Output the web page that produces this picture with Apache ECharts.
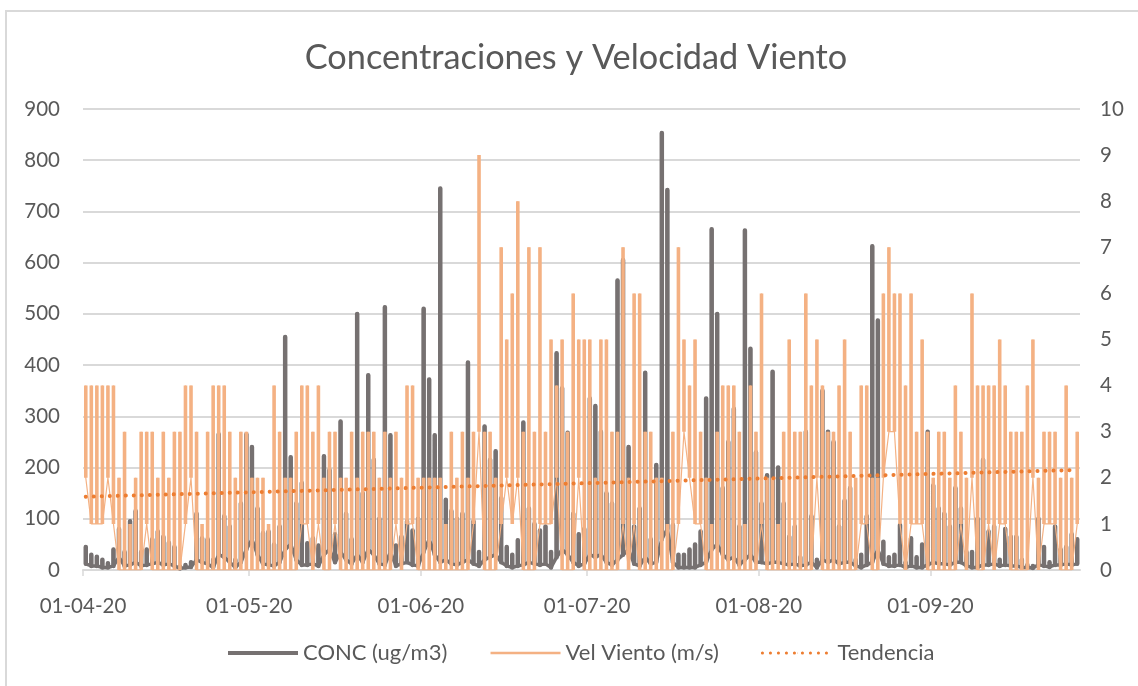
<!DOCTYPE html>
<html><head><meta charset="utf-8">
<style>html,body{margin:0;padding:0;background:#fff}#c{width:1138px;height:686px}</style>
<script src="https://cdn.jsdelivr.net/npm/echarts@6/dist/echarts.min.js"></script>
</head><body><div id="c"></div>
<script>
const tickDays = [0,30,61,91,122,153];
const tickLabels = ['01-04-20','01-05-20','01-06-20','01-07-20','01-08-20','01-09-20'];
const concHi = [45,30,26,20,13,40,80,35,95,115,35,40,60,75,65,53,45,7,10,15,110,62,60,20,265,105,85,20,130,265,
240,120,72,75,50,85,455,220,130,170,52,62,48,222,195,70,290,110,60,500,150,380,215,100,513,263,48,65,95,77,
100,510,372,263,745,137,115,100,110,405,95,35,280,215,232,140,45,30,58,288,120,90,77,85,35,423,355,268,110,70,
80,335,320,270,150,130,565,605,240,85,120,385,60,205,853,742,88,30,30,40,50,75,335,665,500,160,250,315,85,663,
432,230,130,185,387,200,130,65,85,25,270,105,20,350,270,250,85,135,160,20,30,105,632,487,55,25,30,88,15,62,
25,50,270,165,120,110,85,160,120,35,35,100,215,75,85,20,80,65,65,20,10,8,100,45,15,85,40,45,70,60];
const concLo = [12,8,8,5,5,8,25,8,10,15,8,10,12,15,10,12,8,3,5,6,20,15,12,5,30,25,15,5,15,40,
60,30,12,10,8,15,40,50,20,10,10,12,8,30,40,15,35,20,12,30,15,40,30,12,10,35,8,12,15,10,
8,35,60,30,15,20,12,10,15,20,12,8,20,25,30,15,8,5,8,10,15,12,10,12,5,25,40,30,15,8,
12,30,25,30,15,10,20,30,40,12,8,25,12,15,60,80,15,5,5,5,5,10,15,40,50,30,20,25,10,20,
30,15,15,12,15,15,12,10,12,8,10,15,5,20,15,20,12,15,15,8,5,10,15,40,12,8,8,10,5,8,
5,5,10,15,12,12,10,15,15,8,5,5,10,10,12,8,10,8,8,5,5,4,10,8,6,10,10,12,10,12];
const windHi = [4,4,4,4,4,4,2,3,1,2,3,3,3,2,3,2,3,3,4,4,3,1,3,4,4,4,3,2,3,3,
2,2,2,1,4,3,2,2,3,4,4,3,4,2,3,3,2,2,3,2,3,3,3,2,3,2,3,2,4,4,
2,2,2,2,2,1,3,2,3,2,3,9,3,3,2,7,5,6,8,3,7,3,7,3,5,4,5,3,6,5,
5,5,2,5,5,3,3,7,2,6,6,3,3,2,2,1,3,7,5,4,5,3,2,1,3,4,4,4,3,1,
4,3,6,2,2,1,3,5,3,3,6,4,5,4,3,3,4,5,3,2,4,4,2,2,6,7,6,6,4,6,
3,5,3,2,3,3,2,4,3,2,6,4,4,4,4,5,4,3,3,3,4,5,2,3,3,3,2,4,2,3];
const windLo = [2,1,1,1,2,1,0,0,0,0,0,1,0,0,0,0,0,0,1,2,0,0,0,0,0,0,0,0,0,0,
0,0,0,0,0,0,0,0,0,1,1,0,1,0,0,1,0,0,0,0,0,0,0,0,0,0,1,0,1,1,
0,0,0,0,0,0,0,0,0,0,1,3,0,0,0,1,2,1,2,0,0,0,1,1,1,2,0,0,0,2,
0,0,0,0,0,0,0,1,0,1,0,0,0,0,0,0,0,1,3,2,1,1,0,0,0,0,0,0,0,0,
0,0,1,0,0,0,0,0,0,0,0,0,2,0,0,0,0,0,0,0,1,1,0,0,2,3,3,1,0,1,
1,1,0,0,0,0,0,0,1,0,2,0,0,1,0,1,1,0,0,0,0,2,0,1,1,1,0,0,0,1];
const trendEnds = [[0.5,1.59],[179.5,2.17]];

const GREY='#767171', PEACH='#F4B183', ORANGE='#ED7D31', TXT='#595959', GRID='#D9D9D9', FONT='Lato';
const zig = (lo,hi)=>hi.flatMap((h,d)=>[[d+.5,lo[d]],[d+.5,h],[d+.5,lo[d]]]);
const strokes = (lo,hi)=>hi.flatMap((h,d)=>[[d+.5,lo[d]],[d+.5,h],null]);

const chart = echarts.init(document.getElementById('c'),null,{renderer:'canvas'});
const base = {type:'line',symbol:'none',silent:true,animation:false};
chart.setOption({
  animation:false, backgroundColor:'#fff',
  title:{text:'Concentraciones y Velocidad Viento',left:571,top:36,textAlign:'center',
    textStyle:{color:TXT,fontFamily:FONT,fontSize:34.3,fontWeight:'normal'}},
  legend:{left:226,top:642,padding:0,itemWidth:70,itemHeight:1,itemGap:42,
    textStyle:{color:TXT,fontFamily:FONT,fontSize:22},
    data:[{name:'CONC (ug/m3)',lineStyle:{width:4}},{name:'Vel Viento (m/s)',lineStyle:{width:2.5}},{name:'Tendencia',lineStyle:{width:3}}]},
  grid:{left:83,right:58,top:109,bottom:116},
  xAxis:{type:'value',min:0,max:180,
    axisLine:{show:true,onZero:false,lineStyle:{color:GRID,width:2}},
    axisTick:{show:true,length:6,customValues:tickDays,lineStyle:{color:GRID,width:1.5}},
    splitLine:{show:false},
    axisLabel:{customValues:tickDays,margin:26,color:TXT,fontFamily:FONT,fontSize:20.5,
      formatter:v=>tickLabels[tickDays.indexOf(v)]}},
  yAxis:[
   {type:'value',min:0,max:900,interval:100,axisLine:{show:false},axisTick:{show:false},
    splitLine:{lineStyle:{color:GRID,width:2}},
    axisLabel:{margin:23,color:TXT,fontFamily:FONT,fontSize:20.5}},
   {type:'value',min:0,max:10,interval:1,position:'right',axisLine:{show:false},axisTick:{show:false},
    splitLine:{show:false},
    axisLabel:{margin:20,color:TXT,fontFamily:FONT,fontSize:20.5}}],
  series:[
   {...base,name:'CONC (ug/m3)',yAxisIndex:0,z:2,data:zig(concLo,concHi),
     lineStyle:{color:GREY,width:3.5,join:'round'},itemStyle:{color:GREY}},
   {...base,name:'CONC (ug/m3)',yAxisIndex:0,z:2,data:strokes(concLo,concHi),connectNulls:false,
     lineStyle:{color:GREY,width:4.5,cap:'round'},itemStyle:{color:GREY}},
   {...base,name:'Vel Viento (m/s)',yAxisIndex:1,z:3,data:zig(windLo,windHi),
     lineStyle:{color:PEACH,width:1.2},itemStyle:{color:PEACH}},
   {...base,name:'Vel Viento (m/s)',yAxisIndex:1,z:3,data:strokes(windLo,windHi),connectNulls:false,
     lineStyle:{color:PEACH,width:3.6,cap:'butt'},itemStyle:{color:PEACH}},
   {...base,name:'Tendencia',yAxisIndex:1,z:4,data:trendEnds,
     lineStyle:{color:ORANGE,width:4,type:[0.1,7.9],cap:'round'},itemStyle:{color:ORANGE}}
  ],
  graphic:[{type:'rect',z:0,silent:true,shape:{x:6,y:11,width:1300,height:900},
    style:{fill:'none',stroke:GRID,lineWidth:2}}]
});
</script></body></html>
